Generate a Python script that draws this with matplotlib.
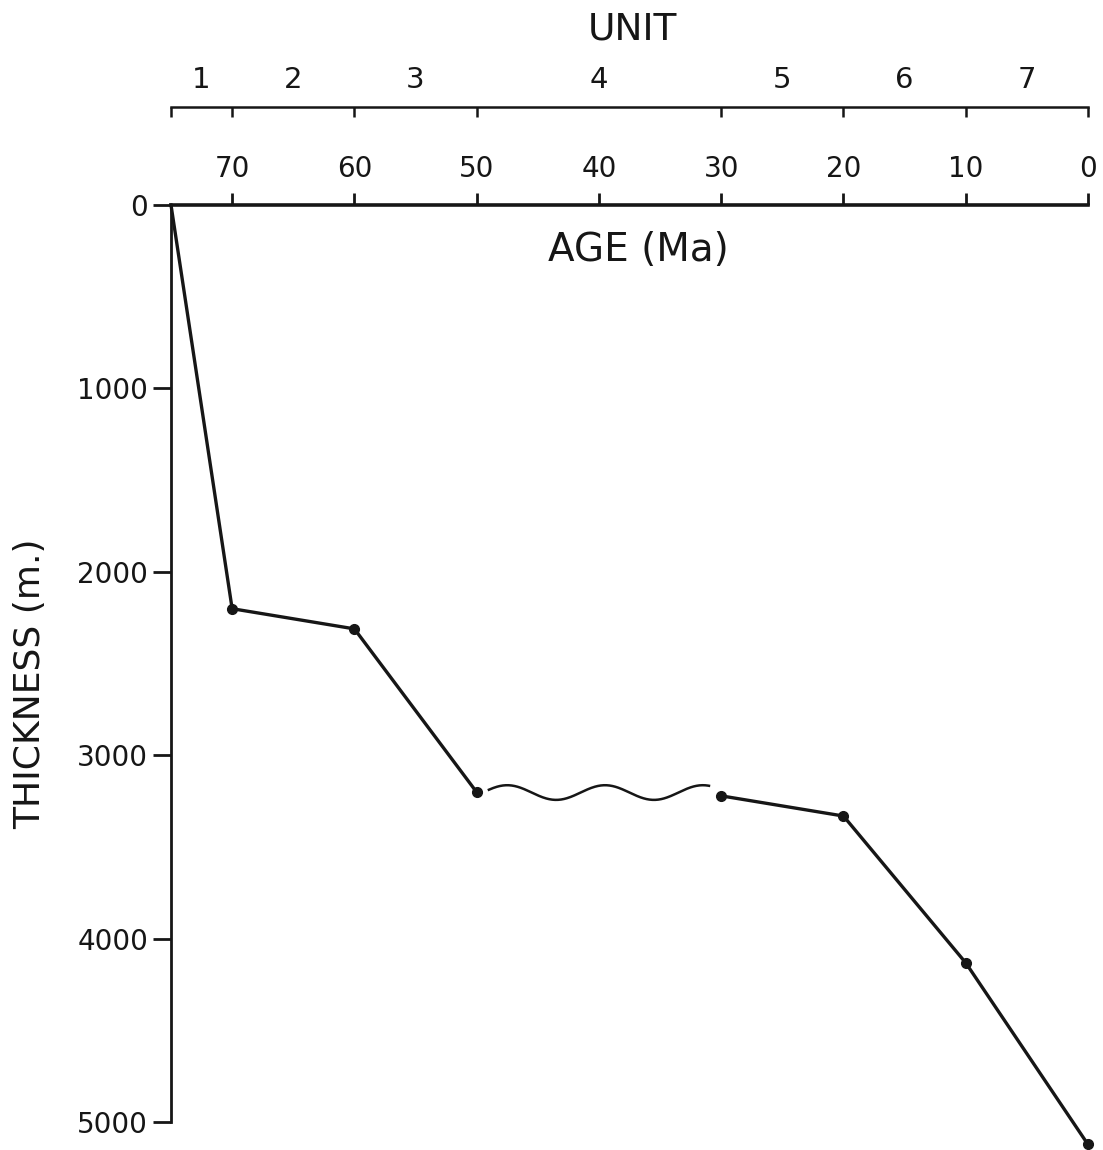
import numpy as np
import matplotlib
matplotlib.use("Agg")
import matplotlib.pyplot as plt

# ---- data ----
age_seg1 = [75, 70, 60, 50]
thick_seg1 = [0, 2200, 2310, 3200]
age_seg2 = [30, 20, 10, 0]
thick_seg2 = [3220, 3330, 4130, 5120]

age_ticks = [70, 60, 50, 40, 30, 20, 10, 0]
thick_ticks = [0, 1000, 2000, 3000, 4000, 5000]
unit_bounds = [75, 70, 60, 50, 30, 20, 10, 0]
unit_labels = ["1", "2", "3", "4", "5", "6", "7"]

INK = "#161616"
plt.rcParams['font.family'] = ['DejaVu Sans']

fig = plt.figure(figsize=(11.03, 11.5), dpi=100)
ax = fig.add_axes([171/1103, 0.0, (1088-171)/1103, 1-205/1150])
ax.set_xlim(75, 0)
ax.set_ylim(5150, 0)

# unit axis (created first; twiny resets the host's tick side)
ax2 = ax.twiny()
ax2.set_xlim(75, 0)
for s in ['bottom', 'right', 'left']:
    ax2.spines[s].set_visible(False)
ax2.spines['top'].set_position(('outward', 70.6))
ax2.spines['top'].set_linewidth(1.8)
ax2.spines['top'].set_color(INK)
ax2.set_xticks(unit_bounds)
ax2.set_xticklabels([])
mids = [(unit_bounds[i] + unit_bounds[i+1]) / 2 for i in range(len(unit_labels))]
ax2.set_xticks(mids, minor=True)
ax2.set_xticklabels(unit_labels, minor=True)
ax2.tick_params(axis='x', which='major', direction='in', length=7.5, width=1.8, colors=INK)
ax2.tick_params(axis='x', which='minor', length=0, pad=9, labelsize=21, colors=INK)

# data lines
ax.plot(age_seg1, thick_seg1, color=INK, lw=2.4, clip_on=False, zorder=3)
ax.plot(age_seg1[1:], thick_seg1[1:], 'o', color=INK, ms=7, clip_on=False, zorder=4)
ax.plot(age_seg2, thick_seg2, color=INK, lw=2.4, clip_on=False, zorder=3)
ax.plot(age_seg2, thick_seg2, 'o', color=INK, ms=7, clip_on=False, zorder=4)

# unconformity symbol (wavy line) across the gap between the two segments
a0 = age_seg1[-1] - 1.0
a1 = age_seg2[0] + 1.0
mid = 0.5 * (thick_seg1[-1] + thick_seg2[0]) - 8
wa = np.linspace(a0, a1, 300)
period = (a0 - a1) / 2.25
wt = mid - 40 * np.cos(2 * np.pi * (wa - (a0 - 1.5)) / period)
ax.plot(wa, wt, color=INK, lw=1.8, zorder=3)

# spines
for s in ['bottom', 'right']:
    ax.spines[s].set_visible(False)
ax.spines['top'].set_linewidth(2.6)
ax.spines['top'].set_color(INK)
ax.spines['left'].set_linewidth(2.0)
ax.spines['left'].set_color(INK)
ax.spines['left'].set_bounds(0, 5000)

ax.xaxis.tick_top()
ax.set_xticks(age_ticks)
ax.set_xticklabels([str(a) for a in age_ticks])
ax.tick_params(axis='x', direction='out', length=8.6, width=2, pad=7,
               labelsize=20, colors=INK, top=True, bottom=False,
               labeltop=True, labelbottom=False)
ax.set_yticks(thick_ticks)
ax.set_yticklabels([str(t) for t in thick_ticks])
ax.tick_params(axis='y', direction='out', length=13, width=2, pad=3.5,
               labelsize=20, colors=INK)

# titles
fig.text(632/1103, 1-30/1150, "UNIT", ha='center', va='center', fontsize=27, color=INK)
fig.text(638/1103, 1-250/1150, "AGE (Ma)", ha='center', va='center', fontsize=28, color=INK)
fig.text(30/1103, 1-684/1150, "THICKNESS (m.)", ha='center', va='center', rotation=90,
         fontsize=26, color=INK)

fig.savefig("out.png", dpi=100, facecolor='white')
